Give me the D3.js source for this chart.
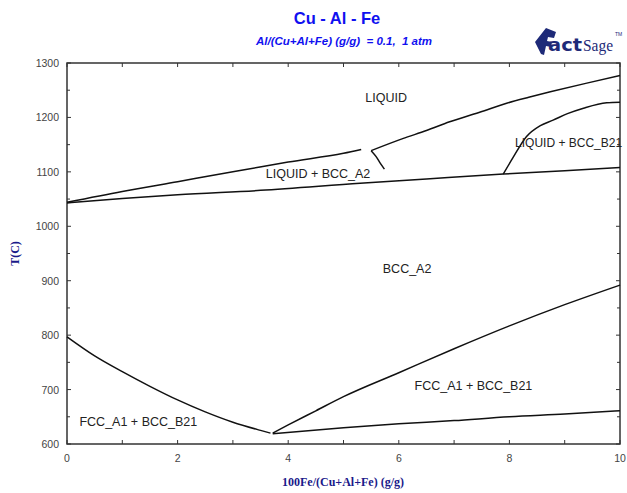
<!DOCTYPE html>
<html>
<head>
<meta charset="utf-8">
<script src="https://cdn.jsdelivr.net/npm/d3@7"></script>
<style>
  body { margin: 0; background: #fff; }
  svg { display: block; }
</style>
</head>
<body>
<div id="chart"></div>
<script>
var width = 627,
    height = 493,
    margin = {top: 63, right: 7, bottom: 49, left: 67};

// phase boundaries, [100Fe/(Cu+Al+Fe), T(C)]
var liquidusLow = [[0, 1044], [1, 1064], [2, 1082], [3, 1100], [3.49, 1109], [4, 1118], [5, 1134], [5.32, 1141]];
var liquidusHigh = [[5.5, 1139], [6.07, 1161], [6.5, 1176], [6.92, 1192], [7.45, 1209], [7.95, 1226], [8.35, 1237], [8.74, 1247], [9.4, 1263], [10, 1277]];
var liquidusSpur = [[5.5, 1139], [5.59, 1128], [5.67, 1115], [5.74, 1105]];
var solidus = [[0, 1043], [1, 1051], [2, 1058], [3.5, 1066], [5.3, 1079], [6.5, 1087], [7.89, 1096], [9, 1102], [10, 1108]];
var b21Boundary = [[7.89, 1096], [8.07, 1127], [8.31, 1165], [8.56, 1185], [8.79, 1195], [9.05, 1207], [9.34, 1217], [9.76, 1227], [10, 1228]];
var fccLeft = [[0, 797], [0.5, 762], [1, 733], [1.5, 706], [2, 681], [2.5, 659], [3, 640], [3.5, 625], [3.68, 620]];
var fccRight = [[3.72, 620], [4, 635], [4.5, 661], [5, 687], [6, 731], [7, 775], [8, 817], [9, 856], [10, 892]];
var fccLower = [[3.72, 619], [5, 630], [6, 637], [7, 643], [8, 650], [9, 655], [10, 661]];

var boundaries = [liquidusLow, liquidusHigh, liquidusSpur, solidus, b21Boundary, fccLeft, fccRight, fccLower];

var phaseLabels = ["LIQUID", "LIQUID + BCC_A2", "LIQUID + BCC_B21", "BCC_A2", "FCC_A1 + BCC_B21", "FCC_A1 + BCC_B21"];
var labelPos = [[5.77, 1237], [4.54, 1097], [9.07, 1154], [6.15, 923], [7.35, 708], [1.29, 642]];

var xTicks = [0, 1, 2, 3, 4, 5, 6, 7, 8, 9, 10];
var xTickLabels = [0, 2, 4, 6, 8, 10];
var yTicks = [600, 700, 800, 900, 1000, 1100, 1200, 1300];
var yMinorTicks = [650, 750, 850, 950, 1050, 1150, 1250];

var x = d3.scaleLinear().domain([0, 10]).range([margin.left, width - margin.right]);
var y = d3.scaleLinear().domain([600, 1300]).range([height - margin.bottom, margin.top]);

var svg = d3.select("#chart").append("svg")
    .attr("width", width)
    .attr("height", height);

// title
svg.append("text")
    .attr("x", 337).attr("y", 24)
    .attr("text-anchor", "middle")
    .style("font-family", "Liberation Sans, Arial, sans-serif")
    .style("font-size", "16.5px")
    .style("font-weight", "bold")
    .style("fill", "#1010f0")
    .text("Cu - Al - Fe");

svg.append("text")
    .attr("x", 344).attr("y", 45)
    .attr("text-anchor", "middle")
    .style("font-family", "Liberation Sans, Arial, sans-serif")
    .style("font-size", "11.5px")
    .style("font-style", "italic")
    .style("font-weight", "bold")
    .style("fill", "#1010f0")
    .attr("xml:space", "preserve")
    .text("Al/(Cu+Al+Fe) (g/g)  = 0.1,  1 atm");

// FactSage logo
var logo = svg.append("g").attr("transform", "translate(535,28)");
logo.append("path")
    .attr("d", "M0,14 L11,0 L21,4 L19,10 L13,9 L12,13 L17,14 L16,19 L11,18 L9,27 L6,26 Z")
    .style("fill", "#1e2a78");
logo.append("text")
    .attr("x", 13).attr("y", 23)
    .attr("textLength", 34)
    .attr("lengthAdjust", "spacingAndGlyphs")
    .style("font-family", "DejaVu Sans, sans-serif")
    .style("font-size", "17px")
    .style("font-weight", "bold")
    .style("fill", "#1e2a78")
    .text("act");
logo.append("text")
    .attr("x", 48).attr("y", 23)
    .attr("textLength", 30)
    .attr("lengthAdjust", "spacingAndGlyphs")
    .style("font-family", "Liberation Serif, serif")
    .style("font-size", "17px")
    .style("fill", "#1e2a78")
    .text("Sage");
logo.append("text")
    .attr("x", 80).attr("y", 8)
    .style("font-family", "Liberation Sans, sans-serif")
    .style("font-size", "5px")
    .style("fill", "#1e2a78")
    .text("TM");

// frame
var frame = svg.append("g").style("stroke", "#333").style("stroke-width", 1.5);
frame.append("rect")
    .attr("x", x(0)).attr("y", y(1300))
    .attr("width", x(10) - x(0))
    .attr("height", y(600) - y(1300))
    .style("fill", "none");

// ticks, inward on all four sides
frame.selectAll(".xtb").data(xTicks).enter().append("line")
    .attr("x1", d => x(d)).attr("x2", d => x(d))
    .attr("y1", y(600)).attr("y2", y(600) - 4)
    .style("stroke-width", 1);
frame.selectAll(".xtt").data(xTicks).enter().append("line")
    .attr("x1", d => x(d)).attr("x2", d => x(d))
    .attr("y1", y(1300)).attr("y2", y(1300) + 4)
    .style("stroke-width", 1);
frame.selectAll(".ytl").data(yTicks.concat(yMinorTicks)).enter().append("line")
    .attr("x1", x(0)).attr("x2", d => x(0) + (d % 100 ? 3 : 4))
    .attr("y1", d => y(d)).attr("y2", d => y(d))
    .style("stroke-width", 1);
frame.selectAll(".ytr").data(yTicks.concat(yMinorTicks)).enter().append("line")
    .attr("x1", x(10)).attr("x2", d => x(10) - (d % 100 ? 3 : 4))
    .attr("y1", d => y(d)).attr("y2", d => y(d))
    .style("stroke-width", 1);

// tick labels
svg.selectAll(".xl").data(xTickLabels).enter().append("text")
    .attr("x", d => x(d)).attr("y", y(600) + 18)
    .attr("text-anchor", "middle")
    .style("font-family", "Liberation Sans, Arial, sans-serif")
    .style("font-size", "10.5px")
    .style("fill", "#444")
    .text(d => d);
svg.selectAll(".yl").data(yTicks).enter().append("text")
    .attr("x", x(0) - 8).attr("y", d => y(d) + 4)
    .attr("text-anchor", "end")
    .style("font-family", "Liberation Sans, Arial, sans-serif")
    .style("font-size", "10.5px")
    .style("fill", "#444")
    .text(d => d);

// axis titles
svg.append("text")
    .attr("x", 343).attr("y", 486)
    .attr("text-anchor", "middle")
    .style("font-family", "Liberation Serif, Times New Roman, serif")
    .style("font-size", "12px")
    .style("font-weight", "bold")
    .style("fill", "#1a1a8a")
    .text("100Fe/(Cu+Al+Fe) (g/g)");
svg.append("text")
    .attr("transform", "translate(19," + y(950) + ") rotate(-90)")
    .attr("text-anchor", "middle")
    .style("font-family", "Liberation Serif, Times New Roman, serif")
    .style("font-size", "12px")
    .style("font-weight", "bold")
    .style("fill", "#1a1a8a")
    .text("T(C)");

// phase boundaries
var line = d3.line()
    .x(d => x(d[0]))
    .y(d => y(d[1]))
    .curve(d3.curveMonotoneX);

svg.append("g").selectAll("path").data(boundaries).enter().append("path")
    .attr("d", d => d[0][0] < d[d.length - 1][0] ? line(d) : d3.line().x(p => x(p[0])).y(p => y(p[1])).curve(d3.curveCatmullRom)(d))
    .style("fill", "none")
    .style("stroke", "#111")
    .style("stroke-width", 1.5);

// phase labels
svg.selectAll(".pl").data(phaseLabels).enter().append("text")
    .attr("x", (d, i) => x(labelPos[i][0]))
    .attr("y", (d, i) => y(labelPos[i][1]) + 4.5)
    .attr("text-anchor", "middle")
    .style("font-family", "Liberation Sans, Arial, sans-serif")
    .style("font-size", (d, i) => i === 2 ? "12px" : "12.5px")
    .style("fill", "#222")
    .text(d => d);
</script>
</body>
</html>
